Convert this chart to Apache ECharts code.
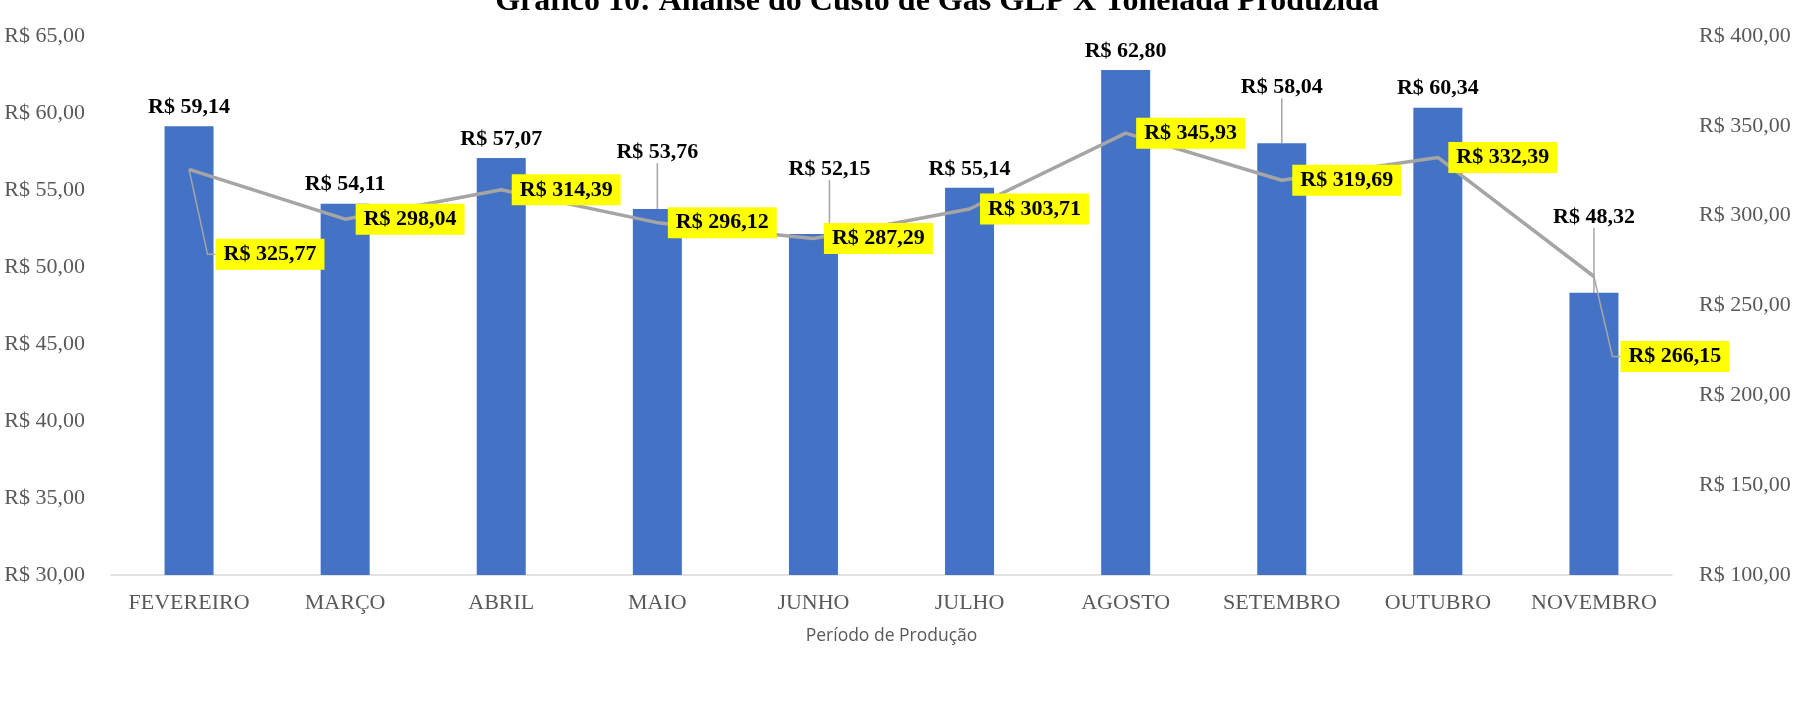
<!DOCTYPE html>
<html>
<head>
<meta charset="utf-8">
<script src="https://cdn.jsdelivr.net/npm/echarts@6/dist/echarts.min.js"></script>
<style>
  html, body { margin: 0; padding: 0; background: #ffffff; }
  #chart { width: 1796px; height: 705px; }
</style>
</head>
<body>
<div id="chart"></div>
<script>
// Production months
const months = ['FEVEREIRO', 'MARÇO', 'ABRIL', 'MAIO', 'JUNHO', 'JULHO', 'AGOSTO', 'SETEMBRO', 'OUTUBRO', 'NOVEMBRO'];
// LPG gas cost per produced ton (R$) - bars, left axis
const gasCostPerTon = [59.14, 54.11, 57.07, 53.76, 52.15, 55.14, 62.80, 58.04, 60.34, 48.32];
// Produced tonnage - line, right axis
const producedTons = [325.77, 298.04, 314.39, 296.12, 287.29, 303.71, 345.93, 319.69, 332.39, 266.15];
// Axis ranges
const leftAxisTicks = { min: 30, max: 65, step: 5 };
const rightAxisTicks = { min: 100, max: 400, step: 50 };

// Labels pulled away from their default spot (with a leader line)
const barLabelShift = { 3: [0, -38], 4: [16, -46], 7: [0, -37], 9: [0, -57] };
const lineLabelShift = { 0: [16, 85], 9: [16, 80] };

const brl = v => 'R$ ' + v.toFixed(2).replace('.', ',');
const serif = 'Liberation Serif, Times New Roman, serif';
const axisText = { fontFamily: serif, fontSize: 22, color: '#595959' };
const guide = { show: true, length2: 8, lineStyle: { color: '#a6a6a6', width: 1.5 } };

const barData = gasCostPerTon.map((v, i) => barLabelShift[i] ? { value: v, labelLine: guide } : v);
const lineData = producedTons.map((v, i) => lineLabelShift[i] ? { value: v, labelLine: guide } : v);

const chart = echarts.init(document.getElementById('chart'), null, { renderer: 'canvas' });
chart.setOption({
  animation: false,
  backgroundColor: '#ffffff',
  title: {
    text: 'Gráfico 10: Análise do Custo de Gás GLP X Tonelada Produzida',
    left: 932,
    top: -19,
    textAlign: 'center',
    textStyle: { fontFamily: serif, fontSize: 32, fontWeight: 'bold', color: '#000000' }
  },
  grid: { left: 111, right: 124, top: 36, bottom: 130, containLabel: false, outerBoundsMode: 'none' },
  xAxis: {
    type: 'category',
    data: months,
    axisTick: { show: false },
    axisLine: { lineStyle: { color: '#d9d9d9', width: 1.5 } },
    axisLabel: Object.assign({ margin: 17, interval: 0 }, axisText),
    name: 'Período de Produção',
    nameLocation: 'middle',
    nameGap: 52,
    nameTextStyle: { fontFamily: 'Open Sans, Noto Sans, sans-serif', fontSize: 17.5, color: '#595959' }
  },
  yAxis: [
    {
      type: 'value',
      min: leftAxisTicks.min, max: leftAxisTicks.max, interval: leftAxisTicks.step,
      axisLine: { show: false }, axisTick: { show: false }, splitLine: { show: false },
      axisLabel: Object.assign({ margin: 26, formatter: brl }, axisText)
    },
    {
      type: 'value',
      position: 'right',
      min: rightAxisTicks.min, max: rightAxisTicks.max, interval: rightAxisTicks.step,
      axisLine: { show: false }, axisTick: { show: false }, splitLine: { show: false },
      axisLabel: Object.assign({ margin: 27, formatter: brl }, axisText)
    }
  ],
  series: [
    {
      name: 'Custo de Gás GLP',
      type: 'bar',
      yAxisIndex: 0,
      data: barData,
      barWidth: 49,
      itemStyle: { color: '#4472c4' },
      label: {
        show: true,
        position: 'top',
        distance: 8,
        formatter: p => brl(p.value),
        fontFamily: serif, fontSize: 22, fontWeight: 'bold', color: '#000000'
      },
      labelLine: { show: false },
      labelLayout: p => {
        const s = barLabelShift[p.dataIndex];
        return s ? { dx: s[0], dy: s[1] } : {};
      }
    },
    {
      name: 'Tonelada Produzida',
      type: 'line',
      yAxisIndex: 1,
      data: lineData,
      symbol: 'circle',
      symbolSize: 1,
      showSymbol: true,
      lineStyle: { color: '#a5a5a5', width: 3.5 },
      itemStyle: { color: '#a5a5a5' },
      label: {
        show: true,
        position: 'right',
        distance: 10,
        formatter: p => brl(p.value),
        fontFamily: serif, fontSize: 22, fontWeight: 'bold', color: '#000000',
        backgroundColor: '#ffff00',
        padding: [5, 8, 4, 8],
        lineHeight: 22
      },
      labelLine: { show: false },
      labelLayout: p => {
        const s = lineLabelShift[p.dataIndex];
        return s ? { dx: s[0], dy: s[1] } : {};
      }
    }
  ]
});
</script>
</body>
</html>
